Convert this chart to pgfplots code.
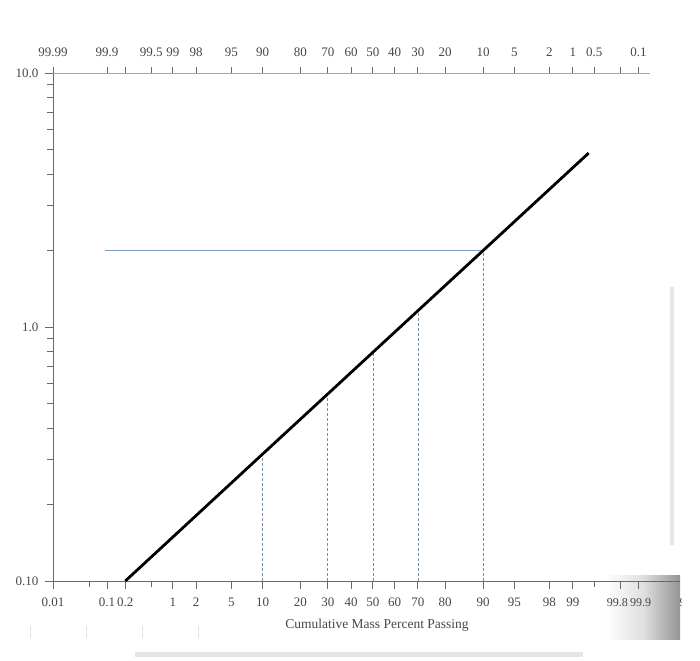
\documentclass[border=0pt]{standalone}
\usepackage{fontspec}
\setmainfont{Liberation Serif}
\usepackage{pgfplots}
\pgfplotsset{compat=1.18}

\definecolor{txt}{RGB}{70,70,70}
\definecolor{axl}{RGB}{105,105,105}
\definecolor{hline}{RGB}{125,155,190}
\definecolor{dline}{RGB}{120,140,175}

\begin{document}
\begin{tikzpicture}[x=1pt,y=1pt]
\useasboundingbox (0,0) rectangle (700,660);
% scan shading, bottom right
\shade[left color=white, right color=black!42, middle color=black!12] (605,20) rectangle (680,84);
\fill[black!10] (135,3) rectangle (583,8);
\fill[black!9] (670,115) rectangle (674,373);
\foreach \xx in {30,86,142,198} \draw[black!12, line width=0.8] (\xx,22) -- (\xx,34);

% main axis: bottom probability scale, log size
\begin{axis}[
  at={(53pt,79pt)}, anchor=south west, scale only axis,
  width=627pt, height=508pt,
  xmin=-3.719, xmax=3.572,
  ymode=log, ymin=0.1, ymax=10,
  axis x line*=bottom, axis y line*=left,
  axis line style={axl, line width=0.9pt},
  every tick/.style={axl, line width=0.8pt},
  tick align=outside,
  major tick length=8pt, minor tick length=6pt,
  xtick={-3.719,-3.090,-2.878,-2.326,-2.054,-1.645,-1.282,-0.842,-0.524,-0.253,0,0.253,0.524,0.842,1.282,1.645,2.054,2.326,2.878,3.090},
  xticklabels={0.01,0.1,0.2,1,2,5,10,20,30,40,50,60,70,80,90,95,98,99,
    {\makebox[0pt]{\fontsize{12}{14}\selectfont 99.8\hspace{6pt}}},
    {\makebox[0pt]{\fontsize{12}{14}\selectfont\hspace{4pt}99.9}}},
  minor xtick={-3.291,-2.576,2.576},
  ytick={0.1,1,10}, yticklabels={0.10,1.0,10.0},
  minor ytick={0.2,0.3,0.4,0.5,0.6,0.7,0.8,0.9,2,3,4,5,6,7,8,9},
  /pgf/number format/assume math mode=true,
  tick label style={font=\fontsize{13}{15}\selectfont, text=txt},
  xticklabel style={inner sep=1pt, yshift=-8pt},
  yticklabel style={xshift=-3pt},
  clip=false,
]
% reading lines
\addplot[hline, line width=1pt] coordinates {(-3.114,2.0) (1.282,2.0)};
\addplot[dline, line width=0.6pt, dash pattern=on 3pt off 2pt] coordinates {(-1.282,0.1) (-1.282,0.316)};
\addplot[dline, line width=0.6pt, dash pattern=on 3pt off 2pt] coordinates {(-0.524,0.1) (-0.524,0.545)};
\addplot[dline, line width=0.6pt, dash pattern=on 3pt off 2pt] coordinates {(0,0.1) (0,0.795)};
\addplot[dline, line width=0.6pt, dash pattern=on 3pt off 2pt] coordinates {(0.524,0.1) (0.524,1.159)};
\addplot[dline, line width=0.6pt, dash pattern=on 3pt off 2pt] coordinates {(1.282,0.1) (1.282,2.0)};
% size distribution line
\addplot[black, line width=2.8pt] coordinates {
  (-2.878,0.1) (-1.282,0.316) (-0.524,0.545) (0,0.795)
  (0.524,1.159) (1.282,2.0) (2.51,4.84)};
\end{axis}

% top probability scale (retained percent)
\begin{axis}[
  at={(53pt,79pt)}, anchor=south west, scale only axis,
  width=627pt, height=508pt,
  xmin=-3.719, xmax=3.572, ymin=0, ymax=1,
  axis x line*=top, axis y line=none,
  axis line style={draw=none},
  every tick/.style={axl, line width=0.8pt},
  tick align=outside,
  major tick length=6pt, minor tick length=6pt,
  xtick={-3.719,-3.090,-2.576,-2.326,-2.054,-1.645,-1.282,-0.842,-0.524,-0.253,0,0.253,0.524,0.842,1.282,1.645,2.054,2.326,2.576,3.090},
  xticklabels={99.99,99.9,99.5,99,98,95,90,80,70,60,50,40,30,20,10,5,2,1,0.5,0.1},
  minor xtick={-2.878,2.878},
  /pgf/number format/assume math mode=true,
  tick label style={font=\fontsize{13}{15}\selectfont, text=txt},
  xticklabel style={inner sep=1pt, yshift=9pt},
  clip=false,
]
\draw[black!35, line width=0.7pt] (axis cs:-3.719,1) -- (axis cs:3.22,1);
\end{axis}

\begin{scope}
\clip (0,0) rectangle (681,660);
\node[text=txt, font=\fontsize{12}{14}\selectfont] at (693,57) {99.99};
\end{scope}
\node[text=txt, font=\fontsize{13.5}{16}\selectfont] at (377,35) {Cumulative Mass Percent Passing};
\end{tikzpicture}
\end{document}
